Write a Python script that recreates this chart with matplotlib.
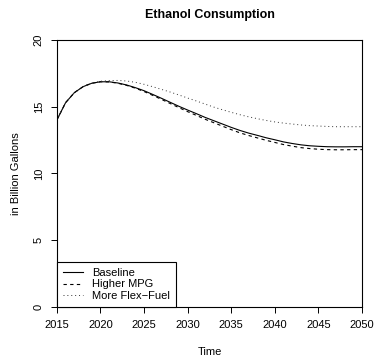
import numpy as np
from matplotlib import pyplot as plt

plt.rcParams['font.family'] = ['Liberation Sans', 'DejaVu Sans']

years = np.arange(2015, 2051)

baseline = [14.0, 15.3, 16.05, 16.5, 16.76, 16.87, 16.87, 16.78, 16.63, 16.43,
            16.2, 15.92, 15.63, 15.33, 15.03, 14.75, 14.48, 14.2, 13.95, 13.7,
            13.45, 13.22, 13.02, 12.85, 12.67, 12.52, 12.36, 12.24, 12.14, 12.07,
            12.03, 12.0, 11.99, 11.99, 12.0, 12.0]
higher_mpg = [14.0, 15.3, 16.05, 16.5, 16.76, 16.87, 16.86, 16.76, 16.6, 16.39,
              16.14, 15.85, 15.55, 15.24, 14.93, 14.63, 14.35, 14.06, 13.8, 13.54,
              13.28, 13.04, 12.84, 12.66, 12.48, 12.32, 12.16, 12.04, 11.93, 11.86,
              11.81, 11.78, 11.77, 11.77, 11.78, 11.78]
flex_fuel = [14.0, 15.3, 16.05, 16.51, 16.78, 16.91, 16.96, 16.97, 16.93, 16.83,
             16.68, 16.5, 16.3, 16.1, 15.88, 15.65, 15.43, 15.2, 14.97, 14.77,
             14.58, 14.4, 14.24, 14.1, 13.97, 13.86, 13.77, 13.7, 13.63, 13.58,
             13.55, 13.52, 13.5, 13.5, 13.5, 13.5]

labels = ['Baseline', 'Higher MPG', 'More Flex\u2212Fuel']

fig = plt.figure(figsize=(3.74, 3.56), dpi=100)
ax = fig.add_axes([0.152, 0.1385, 0.816, 0.749])

lw = 0.8
ax.plot(years, baseline, color='black', lw=lw, label=labels[0])
ax.plot(years, higher_mpg, color='black', lw=lw, dashes=(3, 3), label=labels[1])
ax.plot(years, flex_fuel, color='#333333', lw=0.7, dashes=(1, 3), label=labels[2])

ax.set_xlim(2015, 2050)
ax.set_ylim(0, 20)
ax.set_xticks(np.arange(2015, 2051, 5))
ax.set_yticks(np.arange(0, 21, 5))
ax.tick_params(length=4, width=0.7, labelsize=8, pad=5.5)
for lab in ax.get_yticklabels():
    lab.set_rotation(90)
    lab.set_va('center')
for s in ax.spines.values():
    s.set_linewidth(0.8)

ax.set_title('Ethanol Consumption', fontsize=9, fontweight='bold', y=1.094, va='center', pad=0)
ax.set_xlabel('Time', fontsize=8, va='center')
ax.xaxis.set_label_coords(0.5, -0.169)
ax.set_ylabel('in Billion Gallons', fontsize=8, va='center')
ax.yaxis.set_label_coords(-0.135, 0.5)

leg = ax.legend(loc='lower left', borderaxespad=0, fancybox=False, edgecolor='black',
                framealpha=1, fontsize=8, handlelength=1.8, handletextpad=0.8,
                labelspacing=0.1, borderpad=0.55)
leg.get_frame().set_linewidth(0.8)

plt.savefig('out.png', dpi=100)
